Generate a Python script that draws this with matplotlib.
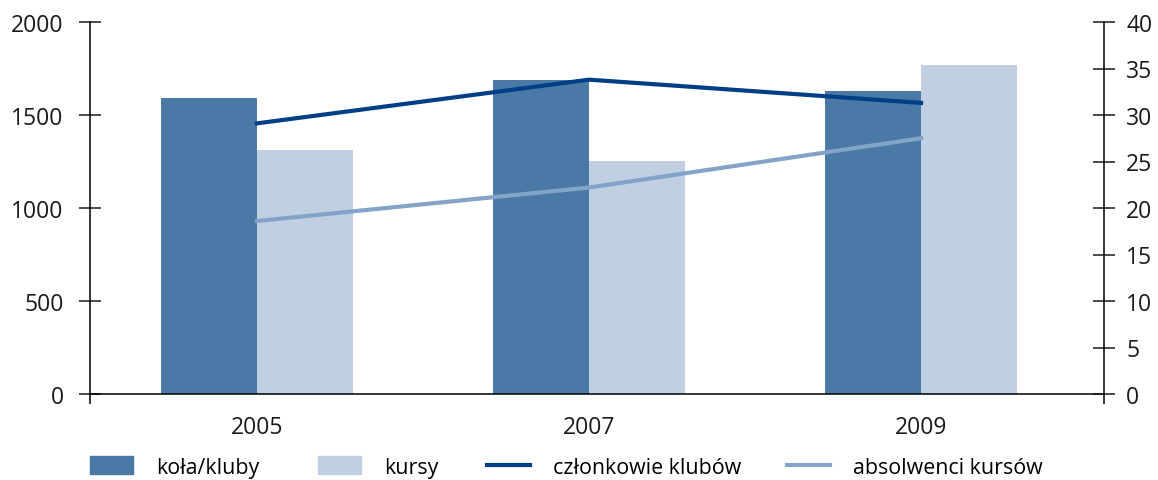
import numpy as np
import matplotlib.pyplot as plt
from matplotlib.patches import Patch
from matplotlib.lines import Line2D

plt.rcParams['font.family'] = ['Open Sans', 'DejaVu Sans']
plt.rcParams['font.size'] = 16.5

years = ['2005', '2007', '2009']
kola_kluby = [1590, 1688, 1629]
kursy = [1312, 1253, 1769]
czlonkowie = [29.1, 33.8, 31.3]
absolwenci = [18.6, 22.2, 27.5]

c_kola = '#4a79a6'
c_kursy = '#c0d0e2'
c_czl = '#003f87'
c_abs = '#84a3c8'

fig = plt.figure(figsize=(11.58, 4.81), dpi=100)
ax = fig.add_axes([90/1158, 1 - 395/481, (1104 - 90)/1158, (395 - 23)/481])
ax2 = ax.twinx()

x = np.arange(len(years))
w = 0.289
ax.bar(x - w, kola_kluby, w, align='edge', color=c_kola, zorder=2)
ax.bar(x, kursy, w, align='edge', color=c_kursy, zorder=2)

ax2.plot(x, czlonkowie, color=c_czl, lw=3)
ax2.plot(x, absolwenci, color=c_abs, lw=3)

ax.set_xlim(-0.503, 2.551)
ax.set_ylim(0, 2000)
ax2.set_ylim(0, 40)
ax.set_yticks(np.arange(0, 2001, 500))
ax2.set_yticks(np.arange(0, 41, 5))

ax.set_xticks(x)
ax.set_xticklabels(years)
ax.set_xticks([-0.503, 2.551], minor=True)
ax.tick_params(axis='x', which='major', length=0, pad=15, colors='#1a1a1a')
ax.tick_params(axis='x', which='minor', direction='out', length=7, width=1.1, color='black')
ax.tick_params(axis='y', direction='inout', length=16, width=1.1, pad=11, colors='#1a1a1a')
ax2.tick_params(axis='y', direction='inout', length=16, width=1.1, pad=8, colors='#1a1a1a')

for a in (ax, ax2):
    a.spines['top'].set_visible(False)
    for s in ('left', 'right', 'bottom'):
        a.spines[s].set_linewidth(1.1)
        a.spines[s].set_color('black')
ax.spines['right'].set_visible(False)
ax2.spines['left'].set_visible(False)
ax2.spines['bottom'].set_visible(False)

# legend entries placed one by one along the bottom
handles = [
    Patch(color=c_kola),
    Patch(color=c_kursy),
    Line2D([], [], color=c_czl, lw=3),
    Line2D([], [], color=c_abs, lw=3),
]
labels = ['koła/kluby', 'kursy', 'członkowie klubów', 'absolwenci kursów']
starts = [90, 318, 487, 787]
for h, lab, x0 in zip(handles, labels, starts):
    fig.legend([h], [lab], loc='center left', bbox_to_anchor=(x0/1158, 1 - 468/481),
               frameon=False, borderpad=0, borderaxespad=0, fontsize=15.4,
               handlelength=2.0, handleheight=0.9, handletextpad=1.1)

fig.savefig('out.png', dpi=100)
